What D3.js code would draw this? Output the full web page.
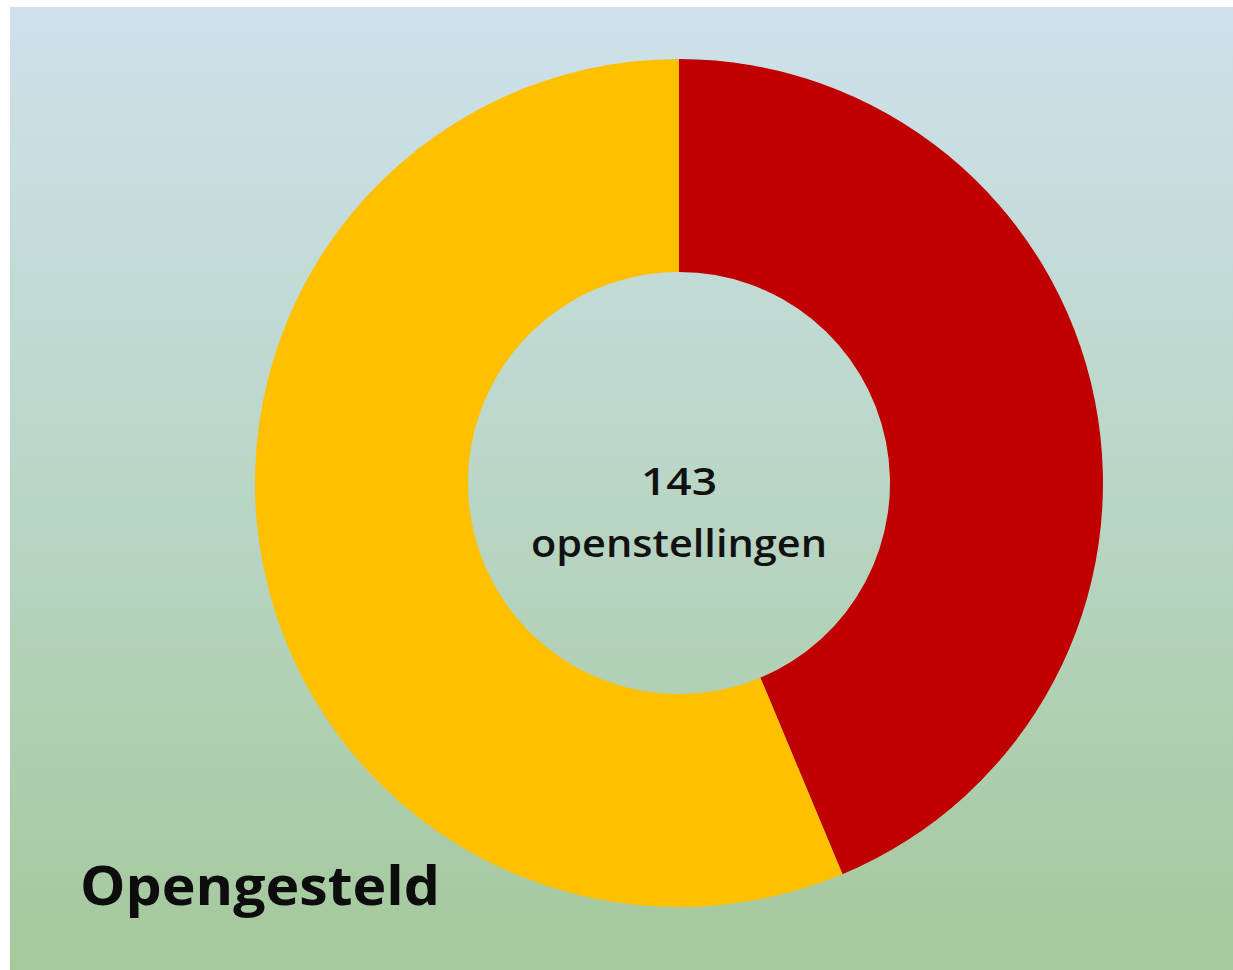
<!DOCTYPE html>
<html>
<head>
<meta charset="utf-8">
<script src="https://cdn.jsdelivr.net/npm/d3@7"></script>
<style>
html,body{margin:0;padding:0;background:#fff;}
svg{display:block;}
</style>
</head>
<body>
<script>
const categories = ["Rood", "Geel"];
const values = [43.7, 56.3];
const colors = ["#C00000", "#FFC000"];
const centerLines = ["143", "openstellingen"];
const title = "Opengesteld";

const W = 1233, H = 970;
const svg = d3.select("body").append("svg").attr("width", W).attr("height", H);

const defs = svg.append("defs");
const grad = defs.append("linearGradient").attr("id", "bg").attr("x1", 0).attr("y1", 0).attr("x2", 0).attr("y2", 1);
grad.append("stop").attr("offset", "0%").attr("stop-color", "#cfe1ec");
grad.append("stop").attr("offset", "50%").attr("stop-color", "#b9d6c6");
grad.append("stop").attr("offset", "100%").attr("stop-color", "#a5c89c");

svg.append("rect").attr("x", 10).attr("y", 7).attr("width", W - 10).attr("height", H - 7).attr("fill", "url(#bg)");

const cx = 679, cy = 483, R = 424, r = 211;
const pie = d3.pie().sort(null).value(d => d.v);
const arc = d3.arc().innerRadius(r).outerRadius(R);
const data = categories.map((c, i) => ({c, v: values[i], col: colors[i]}));

const g = svg.append("g").attr("transform", `translate(${cx},${cy})`);
g.selectAll("path").data(pie(data)).enter().append("path")
  .attr("d", arc).attr("fill", d => d.data.col);

g.append("text").attr("x", 0).attr("y", 12).attr("text-anchor", "middle")
  .attr("font-family", "Open Sans, sans-serif").attr("font-weight", 600).attr("font-size", 38).attr("fill", "#111")
  .attr("textLength", 76).attr("lengthAdjust", "spacingAndGlyphs")
  .text(centerLines[0]);
g.append("text").attr("x", 0).attr("y", 74).attr("text-anchor", "middle")
  .attr("font-family", "Open Sans, sans-serif").attr("font-weight", 600).attr("font-size", 38).attr("fill", "#111")
  .attr("textLength", 296).attr("lengthAdjust", "spacingAndGlyphs")
  .text(centerLines[1]);

svg.append("text").attr("x", 80).attr("y", 905)
  .attr("font-family", "Open Sans, sans-serif").attr("font-weight", "bold").attr("font-size", 54).attr("fill", "#0d0d0d")
  .attr("textLength", 360).attr("lengthAdjust", "spacingAndGlyphs")
  .text(title);
</script>
</body>
</html>
